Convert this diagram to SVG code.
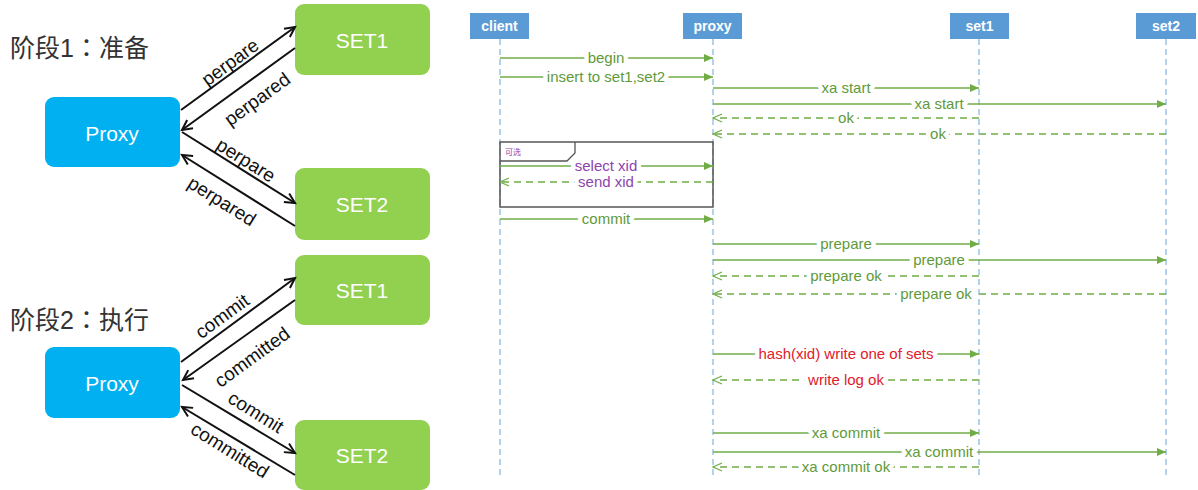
<svg xmlns="http://www.w3.org/2000/svg" width="1198" height="490" viewBox="0 0 1198 490">
<style>
.title{font-family:"Liberation Sans","Noto Sans CJK SC",sans-serif;font-size:25px;fill:#333}
.colon{font-family:"Noto Sans CJK JP",sans-serif}
.proxy rect{fill:#00b0f0}
.set rect{fill:#92d050}
.nodetxt{font-family:"Liberation Sans",sans-serif;font-size:21px;fill:#fff;text-anchor:middle}
.bk{stroke:#111;stroke-width:2;fill:none;marker-end:url(#bkarrow)}
.bl{font-family:"Liberation Sans",sans-serif;font-size:19px;fill:#111;text-anchor:middle}
.hdr rect{fill:#5b9bd5}
.hdr text{font-family:"Liberation Sans",sans-serif;font-size:14px;font-weight:bold;fill:#fff;text-anchor:middle}
.life{stroke:#9dc3e6;stroke-width:1.5;stroke-dasharray:6 4}
.sol{stroke:#70ad47;stroke-width:1.3;fill:none;marker-end:url(#solid)}
.dsh{stroke:#70ad47;stroke-width:1.3;fill:none;stroke-dasharray:7 5;marker-end:url(#open)}
.ml{font-family:"Liberation Sans",sans-serif;font-size:15px;text-anchor:middle;paint-order:stroke;stroke:#fff;stroke-width:9px;stroke-linejoin:round}
.g{fill:#5f9a3a}
.p{fill:#8e44ad}
.r{fill:#e0202a}
</style>
<defs>
<marker id="bkarrow" markerUnits="userSpaceOnUse" markerWidth="14" markerHeight="14" refX="11" refY="6" orient="auto"><path d="M1,1 L11,6 L1,11" fill="none" stroke="#111" stroke-width="2"/></marker>
<marker id="solid" markerUnits="userSpaceOnUse" markerWidth="10" markerHeight="8" refX="9" refY="4" orient="auto"><path d="M0,0 L9,4 L0,8 z" fill="#70ad47"/></marker>
<marker id="open" markerUnits="userSpaceOnUse" markerWidth="11" markerHeight="10" refX="10" refY="5" orient="auto"><path d="M1,1 L10,5 L1,9" fill="none" stroke="#70ad47" stroke-width="1.2"/></marker>
</defs>
<rect width="1198" height="490" fill="#fff"/>

<!-- Left: phase diagrams -->
<text class="title" x="10" y="57">阶段1<tspan class="colon">：</tspan>准备</text>
<text class="title" x="10" y="329">阶段2<tspan class="colon">：</tspan>执行</text>

<g id="p1-proxy" class="proxy"><rect x="45" y="97" width="135" height="70" rx="9"/><text class="nodetxt" x="112" y="141">Proxy</text></g>
<g id="p1-set1" class="set"><rect x="295" y="4" width="135" height="71" rx="9"/><text class="nodetxt" x="362" y="48">SET1</text></g>
<g id="p1-set2" class="set"><rect x="295" y="168" width="135" height="72" rx="9"/><text class="nodetxt" x="362" y="212">SET2</text></g>

<g id="p2-proxy" class="proxy"><rect x="45" y="347" width="135" height="71" rx="9"/><text class="nodetxt" x="112" y="391">Proxy</text></g>
<g id="p2-set1" class="set"><rect x="295" y="255" width="135" height="70" rx="9"/><text class="nodetxt" x="362" y="298">SET1</text></g>
<g id="p2-set2" class="set"><rect x="295" y="420" width="135" height="70" rx="9"/><text class="nodetxt" x="362" y="463">SET2</text></g>

<g id="phase-connectors">
<line class="bk" x1="181" y1="110" x2="295" y2="27"/>
<line class="bk" x1="295" y1="48" x2="182" y2="130"/>
<line class="bk" x1="182" y1="132" x2="295" y2="203"/>
<line class="bk" x1="295" y1="226" x2="182" y2="155"/>
<text class="bl" transform="translate(230,62) rotate(-36)" dy=".35em">perpare</text>
<text class="bl" transform="translate(257,99) rotate(-36)" dy=".35em">perpared</text>
<text class="bl" transform="translate(246,160) rotate(32)" dy=".35em">perpare</text>
<text class="bl" transform="translate(222,201) rotate(32)" dy=".35em">perpared</text>

<line class="bk" x1="181" y1="362" x2="295" y2="278"/>
<line class="bk" x1="295" y1="300" x2="183" y2="380"/>
<line class="bk" x1="182" y1="385" x2="295" y2="453"/>
<line class="bk" x1="295" y1="475" x2="182" y2="407"/>
<text class="bl" transform="translate(222,316) rotate(-36)" dy=".35em">commit</text>
<text class="bl" transform="translate(252,357) rotate(-36)" dy=".35em">committed</text>
<text class="bl" transform="translate(256,412) rotate(32)" dy=".35em">commit</text>
<text class="bl" transform="translate(230,450) rotate(32)" dy=".35em">committed</text>
</g>

<!-- Right: sequence diagram -->
<g id="client" class="hdr"><rect x="470" y="13" width="59" height="26"/><text x="499.5" y="31">client</text></g>
<g id="proxy" class="hdr"><rect x="683" y="13" width="59" height="26"/><text x="712.5" y="31">proxy</text></g>
<g id="set1" class="hdr"><rect x="950" y="13" width="59" height="26"/><text x="979.5" y="31">set1</text></g>
<g id="set2" class="hdr"><rect x="1136" y="13" width="60" height="26"/><text x="1166" y="31">set2</text></g>

<g id="lifelines">
<line class="life" x1="500" y1="39" x2="500" y2="477"/>
<line class="life" x1="713" y1="39" x2="713" y2="477"/>
<line class="life" x1="979" y1="39" x2="979" y2="477"/>
<line class="life" x1="1166" y1="39" x2="1166" y2="477"/>
</g>

<g id="opt-frame">
<rect x="500" y="142" width="213" height="65" fill="none" stroke="#555" stroke-width="1.5"/>
<path d="M500,161 H567 L575,153 V142" fill="none" stroke="#555" stroke-width="1.3"/>
<text x="505" y="155" font-family="'Noto Sans CJK SC',sans-serif" font-size="8" fill="#8e44ad">可选</text>
</g>

<g id="messages">
<line class="sol" x1="500" y1="58" x2="713" y2="58"/>
<text class="ml g" x="606" y="63">begin</text>
<line class="sol" x1="500" y1="77" x2="713" y2="77"/>
<text class="ml g" x="606" y="82">insert to set1,set2</text>
<line class="sol" x1="713" y1="88" x2="979" y2="88"/>
<text class="ml g" x="846" y="93">xa start</text>
<line class="sol" x1="713" y1="104" x2="1166" y2="104"/>
<text class="ml g" x="939" y="109">xa start</text>
<line class="dsh" x1="979" y1="118" x2="713" y2="118"/>
<text class="ml g" x="846" y="123">ok</text>
<line class="dsh" x1="1166" y1="134" x2="713" y2="134"/>
<text class="ml g" x="938" y="139">ok</text>

<line class="sol" x1="500" y1="166" x2="713" y2="166"/>
<text class="ml p" x="606" y="171">select xid</text>
<line class="dsh" x1="713" y1="182" x2="500" y2="182"/>
<text class="ml p" x="606" y="187">send xid</text>

<line class="sol" x1="500" y1="219" x2="713" y2="219"/>
<text class="ml g" x="606" y="224">commit</text>

<line class="sol" x1="713" y1="244" x2="979" y2="244"/>
<text class="ml g" x="846" y="249">prepare</text>
<line class="sol" x1="713" y1="260" x2="1166" y2="260"/>
<text class="ml g" x="939" y="265">prepare</text>
<line class="dsh" x1="979" y1="276" x2="713" y2="276"/>
<text class="ml g" x="846" y="281">prepare ok</text>
<line class="dsh" x1="1166" y1="294" x2="713" y2="294"/>
<text class="ml g" x="936" y="299">prepare ok</text>

<line class="sol" x1="713" y1="354" x2="979" y2="354"/>
<text class="ml r" x="846" y="359">hash(xid) write one of sets</text>
<line class="dsh" x1="979" y1="380" x2="713" y2="380"/>
<text class="ml r" x="846" y="385">write log ok</text>

<line class="sol" x1="713" y1="433" x2="979" y2="433"/>
<text class="ml g" x="846" y="438">xa commit</text>
<line class="sol" x1="713" y1="452" x2="1166" y2="452"/>
<text class="ml g" x="939" y="457">xa commit</text>
<line class="dsh" x1="979" y1="467" x2="713" y2="467"/>
<text class="ml g" x="846" y="472">xa commit ok</text>
</g>
</svg>
